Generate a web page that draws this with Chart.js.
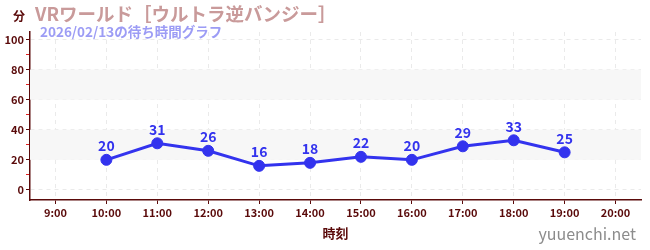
<!DOCTYPE html>
<html>
<head>
<meta charset="utf-8">
<script src="https://cdn.jsdelivr.net/npm/chart.js@4"></script>
<style>
  html, body { margin: 0; padding: 0; background: #fff; }
  #wrap { width: 650px; height: 250px; position: relative; }
</style>
</head>
<body>
<div id="wrap"><canvas id="myChart"></canvas></div>
<script>
const hours = [10, 11, 12, 13, 14, 15, 16, 17, 18, 19];
const waits = [20, 31, 26, 16, 18, 22, 20, 29, 33, 25];
const xTicks = [9, 10, 11, 12, 13, 14, 15, 16, 17, 18, 19, 20];
const yTicks = [0, 10, 20, 30, 40, 50, 60, 70, 80, 90, 100];
const bands = [[20, 40], [60, 80]];

const FONT = "'Noto Sans CJK JP', 'Noto Sans', sans-serif";
const DARK = '#5a0a0a';
const BLUE = '#3333ee';

// gray bands, value labels and the header / footer texts
const extras = {
  id: 'extras',
  beforeDatasetsDraw(chart) {
    const ctx = chart.ctx, a = chart.chartArea, y = chart.scales.y;
    ctx.save();
    ctx.fillStyle = '#f7f7f7';
    bands.forEach(b => {
      const top = y.getPixelForValue(b[1]), bot = y.getPixelForValue(b[0]);
      ctx.fillRect(a.left, top, a.right - a.left, bot - top);
    });
    ctx.restore();
  },
  afterDatasetsDraw(chart) {
    const ctx = chart.ctx;
    const meta = chart.getDatasetMeta(0);
    ctx.save();
    ctx.font = 'bold 14px ' + FONT;
    ctx.fillStyle = BLUE;
    ctx.textAlign = 'center';
    ctx.textBaseline = 'bottom';
    meta.data.forEach((pt, i) => {
      ctx.fillText(String(waits[i]), pt.x, pt.y - 7);
    });
    ctx.restore();
  },
  afterDraw(chart) {
    const ctx = chart.ctx;
    ctx.save();
    ctx.textBaseline = 'middle';
    ctx.textAlign = 'left';
    ctx.font = 'bold 12px ' + FONT;
    ctx.fillStyle = DARK;
    ctx.fillText('分', 13, 16);
    ctx.font = 'bold 18.5px ' + FONT;
    ctx.fillStyle = '#c99a9a';
    ctx.fillText('VRワールド［ウルトラ逆バンジー］', 35, 14);
    ctx.font = 'bold 13.5px ' + FONT;
    ctx.fillStyle = '#9c9cf5';
    ctx.fillText('2026/02/13の待ち時間グラフ', 40, 32);
    ctx.font = '16px ' + FONT;
    ctx.fillStyle = '#8c8c8c';
    ctx.textAlign = 'right';
    ctx.fillText('yuuenchi.net', 636, 234);
    ctx.restore();
  }
};

new Chart('myChart', {
  type: 'line',
  data: {
    datasets: [{
      data: hours.map((h, i) => ({ x: h, y: waits[i] })),
      borderColor: BLUE,
      backgroundColor: BLUE,
      borderWidth: 3,
      pointRadius: 5.5,
      pointBorderWidth: 1,
      pointHoverRadius: 5.5,
      fill: false,
      tension: 0
    }]
  },
  options: {
    responsive: true,
    maintainAspectRatio: false,
    animation: false,
    layout: { padding: { left: 0, right: 9, top: 32, bottom: 0 } },
    plugins: { legend: { display: false }, tooltip: { enabled: false } },
    scales: {
      x: {
        type: 'linear',
        min: 8.5,
        max: 20.5,
        afterFit(s) { s.height = 50; },
        afterBuildTicks(s) { s.ticks = xTicks.map(v => ({ value: v })); },
        ticks: {
          color: DARK,
          font: { family: FONT, size: 11, weight: 'bold' },
          padding: 2,
          callback: v => v + ':00'
        },
        grid: {
          color: '#eaeaea',
          tickColor: DARK,
          tickLength: 4,
          lineWidth: 1
        },
        border: { color: DARK, width: 1.5, dash: [4, 4] },
        title: {
          display: true,
          text: '時刻',
          color: DARK,
          font: { family: FONT, size: 13, weight: 'bold' },
          padding: { top: 0, bottom: 9 }
        }
      },
      y: {
        min: -6.7,
        max: 105,
        afterFit(s) { s.width = 30; },
        afterBuildTicks(s) { s.ticks = yTicks.map(v => ({ value: v })); },
        ticks: {
          color: DARK,
          font: { family: FONT, size: 11, weight: 'bold' },
          padding: 2,
          callback: v => (v % 20 === 0 ? String(v) : '')
        },
        grid: {
          color: c => (c.tick && c.tick.value % 20 === 0 ? '#eaeaea' : 'rgba(0,0,0,0)'),
          tickColor: c => (c.tick && c.tick.value % 20 === 0 ? DARK : '#e02020'),
          tickLength: 4,
          lineWidth: 1
        },
        border: { color: DARK, width: 1.5, dash: [4, 4] }
      }
    }
  },
  plugins: [extras]
});
</script>
</body>
</html>
